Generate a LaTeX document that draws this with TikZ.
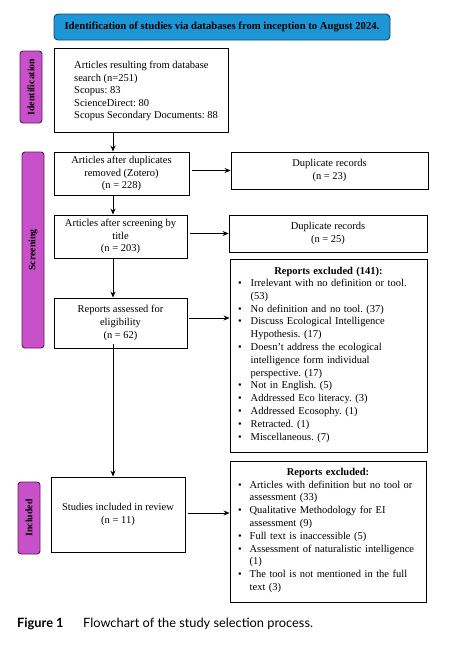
\documentclass[tikz,border=0pt]{standalone}
\usepackage{fontspec}
\setmainfont{Liberation Serif}
\newfontfamily\capfont{Lato}
\usetikzlibrary{arrows.meta}
\frenchspacing
\definecolor{hdrblue}{RGB}{28,150,212}
\definecolor{hdrline}{RGB}{30,70,110}
\definecolor{sidemag}{RGB}{200,80,200}
\definecolor{sideline}{RGB}{90,30,90}
\tikzset{
  box/.style={draw=black, line width=0.9pt, fill=white, align=center, inner sep=0pt,
    font=\fontsize{10.5}{12.8}\selectfont},
  side/.style={draw=sideline, line width=0.9pt, fill=sidemag, rounded corners=3pt, rotate=90,
    minimum height=22pt, inner sep=0pt, font=\bfseries\fontsize{9.8}{11}\selectfont},
  arr/.style={line width=0.8pt, -{Stealth[length=6pt,width=5pt]}},
  listbox/.style={draw=black, line width=0.9pt, fill=white, inner xsep=7pt, inner ysep=0pt,
    font=\fontsize{10.5}{12.8}\selectfont}
}
\begin{document}
\begin{tikzpicture}[x=1pt,y=-1pt]
\useasboundingbox (0,0) rectangle (460,651);
% header
\node[draw=hdrline, line width=0.9pt, fill=hdrblue, rounded corners=4pt, minimum width=336pt,
  minimum height=26pt, inner sep=0pt, font=\bfseries\fontsize{10.7}{12}\selectfont] (hdr) at (222,27)
  {Identification of studies via databases from inception to August 2024.};
% side labels
\node[side, minimum width=72pt] (sid) at (31,87) {Identification};
\node[side, minimum width=196pt] (ssc) at (33,250) {Screening};
\node[side, minimum width=72pt] (sin) at (29,518) {Included};
% identification box
\node[box, minimum width=174pt, minimum height=84pt] (abox) at (141,90) {};
\node[anchor=west, align=left, inner sep=0pt, font=\fontsize{10.5}{12.5}\selectfont] (atext) at (74,91)
  {Articles resulting from database\\search (n=251)\\Scopus: 83\\ScienceDirect: 80\\Scopus Secondary Documents: 88};
% main column
\node[box, minimum width=135pt, minimum height=43pt] (bbox) at (121.5,173.5)
  {Articles after duplicates\\removed (Zotero)\\(n = 228)};
\node[box, minimum width=133pt, minimum height=43pt] (cbox) at (120.5,236.5)
  {Articles after screening by\\title\\(n = 203)};
\node[box, minimum width=133pt, minimum height=50pt] (dbox) at (120.5,323)
  {Reports assessed for\\eligibility\\(n = 62)};
\node[box, minimum width=134pt, minimum height=75pt] (ebox) at (118,514.5)
  {Studies included in review\\(n = 11)};
% right column
\node[box, minimum width=197pt, minimum height=37pt] (dup1) at (329.5,170.5)
  {Duplicate records\\(n = 23)};
\node[box, minimum width=198pt, minimum height=37pt] (dup2) at (328,233.5)
  {Duplicate records\\(n = 25)};
\node[listbox, text width=183pt, minimum height=193pt] (ex1) at (328.5,355.5) {%
  {\centering\textbf{Reports excluded (141):}\par}%
  \noindent\begin{tabular}{@{\hspace{1pt}}c@{\hspace{9pt}}l@{}}
  \textbullet & Irrelevant with no definition or tool.\\
   & (53)\\
  \textbullet & No definition and no tool. (37)\\
  \textbullet & Discuss Ecological Intelligence\\
   & Hypothesis. (17)\\
  \textbullet & Doesn't address the ecological\\
   & intelligence form individual\\
   & perspective. (17)\\
  \textbullet & Not in English. (5)\\
  \textbullet & Addressed Eco literacy. (3)\\
  \textbullet & Addressed Ecosophy. (1)\\
  \textbullet & Retracted. (1)\\
  \textbullet & Miscellaneous. (7)
  \end{tabular}};
\node[listbox, text width=182pt, minimum height=141pt] (ex2) at (328,531.5) {%
  {\centering\textbf{Reports excluded:}\par}%
  \noindent\begin{tabular}{@{\hspace{1pt}}c@{\hspace{8pt}}l@{}}
  \textbullet & Articles with definition but no tool or\\
   & assessment (33)\\
  \textbullet & Qualitative Methodology for EI\\
   & assessment (9)\\
  \textbullet & Full text is inaccessible (5)\\
  \textbullet & Assessment of naturalistic intelligence\\
   & (1)\\
  \textbullet & The tool is not mentioned in the full\\
   & text (3)
  \end{tabular}};
% arrows
\coordinate (ax) at (113,0);
\draw[arr] (ax |- abox.south) -- (ax |- bbox.north);
\draw[arr] (ax |- bbox.south) -- (ax |- cbox.north);
\draw[arr] (ax |- cbox.south) -- (ax |- dbox.north);
\draw[arr] ([yshift=4pt]ax |- dbox.south) -- (ax |- ebox.north);
\draw[arr] ([xshift=3pt]bbox.east |- dup1.west) -- (dup1.west);
\draw[arr] ([xshift=3pt]cbox.east |- dup2.west) -- (dup2.west);
\draw[arr] ([xshift=2pt]dbox.east |- 0,318) -- (ex1.west |- 0,318);
\draw[arr] ([xshift=3pt]ebox.east |- 0,513) -- (ex2.west |- 0,513);
% caption
\node[anchor=west, inner sep=0pt, font=\capfont\bfseries\fontsize{12.8}{15}\selectfont] (cap1) at (17,624) {Figure 1};
\node[anchor=west, inner sep=0pt, font=\capfont\fontsize{12.8}{15}\selectfont] (cap2) at (83,624) {Flowchart of the study selection process.};
\end{tikzpicture}
\end{document}
